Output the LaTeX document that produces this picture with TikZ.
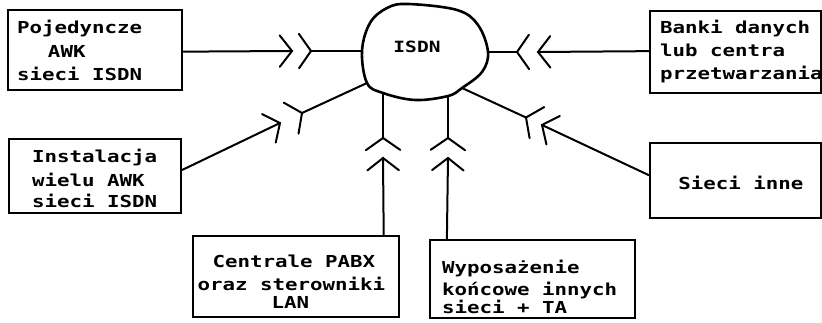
\documentclass[tikz,border=0pt]{standalone}
\usepackage{fontspec}
\newfontfamily\dotfont{DejaVu Sans Mono}[FakeStretch=1.26]
\usetikzlibrary{calc}
\newcommand{\dotsetup}{\dotfont\bfseries\fontsize{16.5}{23.5}\selectfont}
\newcommand{\topst}[1]{\rule{0pt}{#1pt}}
\newcommand{\botst}{\rule[-5pt]{0pt}{5pt}}
\newcommand{\sk}{\hspace{12.5pt}}
\tikzset{
  box/.style={draw, line width=2.8pt, inner sep=0pt, font=\dotsetup},
  conn/.style={line width=2pt, line cap=round},
  blob/.style={line width=2.6pt},
  lbl/.style={font=\dotfont\bfseries\fontsize{15.5}{22}\selectfont, inner sep=0pt}
}
\begin{document}
\begin{tikzpicture}[x=1pt,y=-1pt]
\useasboundingbox (0,0) rectangle (822,323);

% boxes
\node[box, minimum width=174pt, minimum height=80pt, text width=156pt, align=left] (b1) at (95,50)
  {\topst{19}Pojedyncze\\[0.5pt]\hspace*{31pt}AWK\\[-0.5pt]sieci\sk ISDN\botst};
\node[box, minimum width=172pt, minimum height=72pt, text width=126pt, align=left] (b2) at (95,176)
  {\topst{24}Instalacja\\[0.5pt]wielu\sk AWK\\[-2.5pt]sieci\sk ISDN\botst};
\node[box, minimum width=171pt, minimum height=82pt, text width=151pt, align=left] (b3) at (735.5,52)
  {\topst{15}Banki\sk danych\\[-0.5pt]lub\sk centra\\[-0.5pt]przetwarzania\botst};
\node[box, minimum width=171pt, minimum height=75pt, text width=136pt, align=right] (b4) at (735.5,180.5)
  {\topst{24}Sieci\sk inne\botst};
\node[box, minimum width=206pt, minimum height=81pt, text width=197pt, align=left] (b5) at (296,276.5)
  {\topst{28}\hspace*{15pt}Centrale\sk PABX\\[-1.5pt]oraz\sk sterowniki\\[-5.5pt]\hspace*{74pt}LAN\botst};
\node[box, minimum width=205pt, minimum height=78pt, text width=181pt, align=left] (b6) at (532.5,279)
  {\topst{33}Wyposażenie\\[-1.5pt]końcowe\sk innych\\[-5.5pt]sieci\sk +\sk TA\botst};

% cloud
\draw[blob] plot[smooth cycle, tension=0.6] coordinates {(408,4) (457,10) (478,25) (488,52) (482,72) (462,88) (448,96) (415,100) (383,93) (367,83) (362,51) (370,23) (387,8)};
\node[lbl] (isdn) at (417,47) {ISDN};

% cloud attachment points
\coordinate (c1) at (362,51);
\coordinate (c3) at (488,52);
\coordinate (c2) at (367,83);
\coordinate (c4) at (462,88);
\coordinate (c5) at (383,93);
\coordinate (c6) at (448,96);

% box attachment points
\coordinate (a1) at ($(b1.north east)!0.52!(b1.south east)$);
\coordinate (a2) at ($(b2.north east)!0.42!(b2.south east)$);
\coordinate (a3) at ($(b3.north west)!0.49!(b3.south west)$);
\coordinate (a4) at ($(b4.north west)!0.43!(b4.south west)$);
\coordinate (a5) at ($(b5.north west)!0.92!(b5.north east)$);
\coordinate (a6) at ($(b6.north west)!0.088!(b6.north east)$);

% plug tips and socket vertices
\coordinate (p1) at (292,51);  \coordinate (s1) at (311,51);
\coordinate (p2) at (280,123); \coordinate (s2) at (302,113);
\coordinate (p3) at (538,52);  \coordinate (s3) at (517,52);
\coordinate (p4) at (542,125); \coordinate (s4) at (526,117.5);
\coordinate (p5) at (383,158); \coordinate (s5) at (383,138);
\coordinate (p6) at (448,158); \coordinate (s6) at (448,138);

\foreach \i in {1,...,6} {
  \draw[conn] (a\i) -- (p\i);
  \draw[conn] ($(p\i)!20pt!52:(a\i)$) -- (p\i) -- ($(p\i)!20pt!-52:(a\i)$);
  \draw[conn] (c\i) -- (s\i);
  \draw[conn] ($(s\i)!21pt!55:(a\i)$) -- (s\i) -- ($(s\i)!21pt!-55:(a\i)$);
}
\end{tikzpicture}
\end{document}
